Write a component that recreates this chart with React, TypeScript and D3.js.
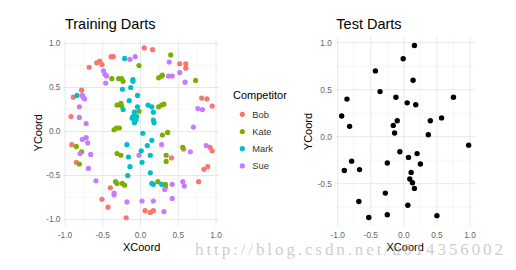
import React from "react";
import * as d3 from "d3";

const competitors = ["Bob", "Kate", "Mark", "Sue"];
const colors = ["#F8766D", "#7CAE00", "#00BFC4", "#C77CFF"];

const bobX = [0.05, 0.16, -0.39, -0.36, -0.58, -0.54, -0.51, -0.68, 0.52, 0.6, 0.6, -0.78, -0.89, 0.81, 0.88, 0.95, -0.92, -0.91, -0.85, 0.57, 0.92, 0.95, 0.41, 0.84, 0.89, 0.77, -0.4, -0.51, -0.43, -0.19, 0.06, 0.13, 0.17];
const bobY = [0.95, 0.93, 0.85, 0.85, 0.78, 0.8, 0.76, 0.73, 0.77, 0.77, 0.72, 0.47, 0.39, 0.38, 0.37, 0.29, 0.17, -0.15, -0.35, -0.2, -0.18, -0.22, -0.3, -0.43, -0.4, -0.57, -0.64, -0.77, -0.86, -0.98, -0.9, -0.92, -0.9];

const kateX = [0.4, -0.02, -0.38, -0.29, -0.25, -0.23, 0.24, 0.28, 0.29, 0.73, -0.31, -0.26, -0.25, -0.02, 0.24, 0.28, 0.31, -0.35, -0.32, -0.28, 0.29, 0.36, -0.85, -0.78, -0.31, -0.26, -0.81, 0.34, 0.34, 0.56, -0.33, -0.31, -0.24, -0.21, 0.23, 0.33, 0.33];
const kateY = [0.87, 0.75, 0.6, 0.6, 0.6, 0.57, 0.61, 0.63, 0.64, 0.58, 0.3, 0.32, 0.29, 0.23, 0.28, 0.3, 0.31, 0.02, 0.04, 0.04, -0.04, -0.01, -0.17, -0.23, -0.25, -0.27, -0.37, -0.27, -0.34, -0.18, -0.57, -0.59, -0.59, -0.61, -0.57, -0.6, -0.63];

const markX = [-0.21, -0.1, -0.1, -0.24, -0.13, -0.04, -0.84, -0.15, -0.23, -0.04, 0.1, 0.15, 0.17, -0.08, -0.1, -0.05, -0.11, -0.06, -0.08, 0.17, 0.18, 0.03, -0.18, 0.09, 0.15, -0.16, 0.01, 0.13, 0.02, -0.14, -0.17, 0.13, 0.15, 0.17, 0.28];
const markY = [0.83, 0.59, 0.57, 0.48, 0.5, 0.41, 0.41, 0.35, 0.25, 0.28, 0.3, 0.28, 0.22, 0.22, 0.17, 0.17, 0.15, 0.13, 0.1, 0.13, 0.1, -0.02, -0.15, -0.16, -0.1, -0.29, -0.22, -0.27, -0.35, -0.4, -0.5, -0.47, -0.59, -0.6, -0.6];

const sueX = [-0.14, -0.07, 0.38, -0.49, -0.47, -0.45, -0.46, 0.37, 0.42, 0.52, 0.59, -0.77, -0.76, -0.74, -0.81, -0.81, -0.72, 0.76, 0.82, 0.7, -0.77, -0.72, -0.7, -0.8, -0.66, -0.69, -0.59, -0.35, -0.35, -0.18, 0.02, 0.17, 0.31, -0.02, 0.28, 0.32, 0.42, 0.42, 0.56, 0.58, 0.66, 0.87];
const sueY = [0.82, 0.85, 0.79, 0.69, 0.65, 0.63, 0.55, 0.63, 0.63, 0.67, 0.56, 0.41, 0.39, 0.37, 0.28, 0.16, 0.09, 0.26, 0.25, 0.05, -0.09, -0.07, -0.13, -0.25, -0.26, -0.42, -0.56, -0.7, -0.72, -0.8, -0.79, -0.79, -0.91, -0.27, -0.15, -0.66, -0.6, -0.76, -0.57, -0.62, -0.23, -0.16];

const testX = [0.16, -0.01, -0.43, 0.14, -0.36, -0.86, -0.12, 0.05, 0.18, 0.75, -0.94, -0.82, -0.1, -0.16, 0.4, 0.57, -0.14, 0.37, 0.98, -0.06, 0.07, 0.2, -0.79, -0.9, -0.67, -0.25, 0.25, 0.11, 0.09, 0.13, 0.16, -0.28, -0.68, 0.06, -0.53, -0.25, 0.5];
const testY = [0.97, 0.83, 0.7, 0.6, 0.48, 0.4, 0.42, 0.36, 0.34, 0.42, 0.22, 0.11, 0.17, 0.12, 0.17, 0.2, 0.04, 0.02, -0.09, -0.16, -0.22, -0.18, -0.26, -0.36, -0.35, -0.28, -0.29, -0.38, -0.45, -0.49, -0.55, -0.6, -0.69, -0.73, -0.86, -0.83, -0.84];

const ticks = [-1, -0.5, 0, 0.5, 1];
const tickLabels = ["-1.0", "-0.5", "0.0", "0.5", "1.0"];
const minorTicks = [-0.75, -0.25, 0.25, 0.75];

const FONT = "'Liberation Sans', Arial, Helvetica, sans-serif";

function expand(vals: number[]): [number, number] {
  const [a, b] = d3.extent(vals) as [number, number];
  const e = (b - a) * 0.05;
  return [a - e, b + e];
}

type PanelProps = {
  title: string;
  xs: d3.ScaleLinear<number, number>;
  ys: d3.ScaleLinear<number, number>;
  xDom: [number, number];
  yDom: [number, number];
  ylabX: number;
  children: React.ReactNode;
};

function Panel({ title, xs, ys, xDom, yDom, ylabX, children }: PanelProps) {
  const x0 = xs(xDom[0]), x1 = xs(xDom[1]);
  const y0 = ys(yDom[0]), y1 = ys(yDom[1]);
  const inX = (v: number) => v >= xDom[0] && v <= xDom[1];
  const inY = (v: number) => v >= yDom[0] && v <= yDom[1];
  return (
    <g>
      {minorTicks.filter(inX).map((t) => (
        <line key={"mx" + t} x1={xs(t)} x2={xs(t)} y1={y1} y2={y0} stroke="#f2f2f2" strokeWidth={0.6} />
      ))}
      {minorTicks.filter(inY).map((t) => (
        <line key={"my" + t} y1={ys(t)} y2={ys(t)} x1={x0} x2={x1} stroke="#f2f2f2" strokeWidth={0.6} />
      ))}
      {ticks.filter(inX).map((t) => (
        <line key={"gx" + t} x1={xs(t)} x2={xs(t)} y1={y1} y2={y0} stroke="#e8e8e8" strokeWidth={1} />
      ))}
      {ticks.filter(inY).map((t) => (
        <line key={"gy" + t} y1={ys(t)} y2={ys(t)} x1={x0} x2={x1} stroke="#e8e8e8" strokeWidth={1} />
      ))}
      {ticks.map((t, i) =>
        inX(t) ? (
          <text key={"tx" + t} x={xs(t)} y={238} textAnchor="middle" fontSize={8.3} fill="#666" fontFamily={FONT}>
            {tickLabels[i]}
          </text>
        ) : null
      )}
      {ticks.map((t, i) =>
        inY(t) ? (
          <text key={"ty" + t} x={x0 - 3.5} y={ys(t)} dy="0.35em" textAnchor="end" fontSize={8.3} fill="#666" fontFamily={FONT}>
            {tickLabels[i]}
          </text>
        ) : null
      )}
      <text x={x0 + 1} y={29} fontSize={14.5} fill="#000" fontFamily={FONT}>
        {title}
      </text>
      <text x={(x0 + x1) / 2} y={251} textAnchor="middle" fontSize={11} fill="#000" fontFamily={FONT}>
        XCoord
      </text>
      <text
        transform={`translate(${ylabX},${(y0 + y1) / 2}) rotate(-90)`}
        textAnchor="middle"
        dy="0.35em"
        fontSize={11}
        fill="#000"
        fontFamily={FONT}
      >
        YCoord
      </text>
      {children}
    </g>
  );
}

export default function App() {
  const groups = [
    { xs: bobX, ys: bobY },
    { xs: kateX, ys: kateY },
    { xs: markX, ys: markY },
    { xs: sueX, ys: sueY },
  ];
  const allX = groups.flatMap((g) => g.xs);
  const allY = groups.flatMap((g) => g.ys);
  const lxDom = expand(allX);
  const lyDom = expand(allY);
  const lx = d3.scaleLinear().domain([-1, 1]).range([65, 216]);
  const ly = d3.scaleLinear().domain([-1, 1]).range([219.5, 43.5]);

  const rxDom = expand(testX);
  const ryDom = expand(testY);
  const rx = d3.scaleLinear().domain([-1, 1]).range([337.7, 470]);
  const ry = d3.scaleLinear().domain([-1, 1]).range([230.7, 42.7]);

  return (
    <svg width={516} height={270} style={{ position: "absolute", left: 0, top: 0, background: "#fff" }}>
      <rect width={516} height={270} fill="#fff" />
      <Panel title="Training Darts" xs={lx} ys={ly} xDom={lxDom} yDom={lyDom} ylabX={38}>
        {groups.map((g, gi) =>
          g.xs.map((v, i) => (
            <circle key={gi + "-" + i} cx={lx(v)} cy={ly(g.ys[i])} r={2.6} fill={colors[gi]} />
          ))
        )}
      </Panel>
      <Panel title="Test Darts" xs={rx} ys={ry} xDom={rxDom} yDom={ryDom} ylabX={308}>
        {testX.map((v, i) => (
          <circle key={"t" + i} cx={rx(v)} cy={ry(testY[i])} r={2.7} fill="#000" />
        ))}
      </Panel>
      <g>
        <text x={233} y={99} fontSize={11} fill="#000" fontFamily={FONT}>
          Competitor
        </text>
        {competitors.map((c, i) => (
          <g key={c} transform={`translate(0,${114.3 + i * 17.2})`}>
            <circle cx={242.3} cy={0} r={2.6} fill={colors[i]} />
            <text x={252.3} y={0} dy="0.35em" fontSize={9.3} fill="#333" fontFamily={FONT}>
              {c}
            </text>
          </g>
        ))}
      </g>
      <text
        x={195}
        y={255}
        fontSize={17}
        fill="#bdbdbd"
        fillOpacity={0.75}
        fontFamily="'Liberation Serif', 'DejaVu Serif', serif"
        textLength={308}
        lengthAdjust="spacing"
      >
        http://blog.csdn.net/u014356002
      </text>
    </svg>
  );
}
